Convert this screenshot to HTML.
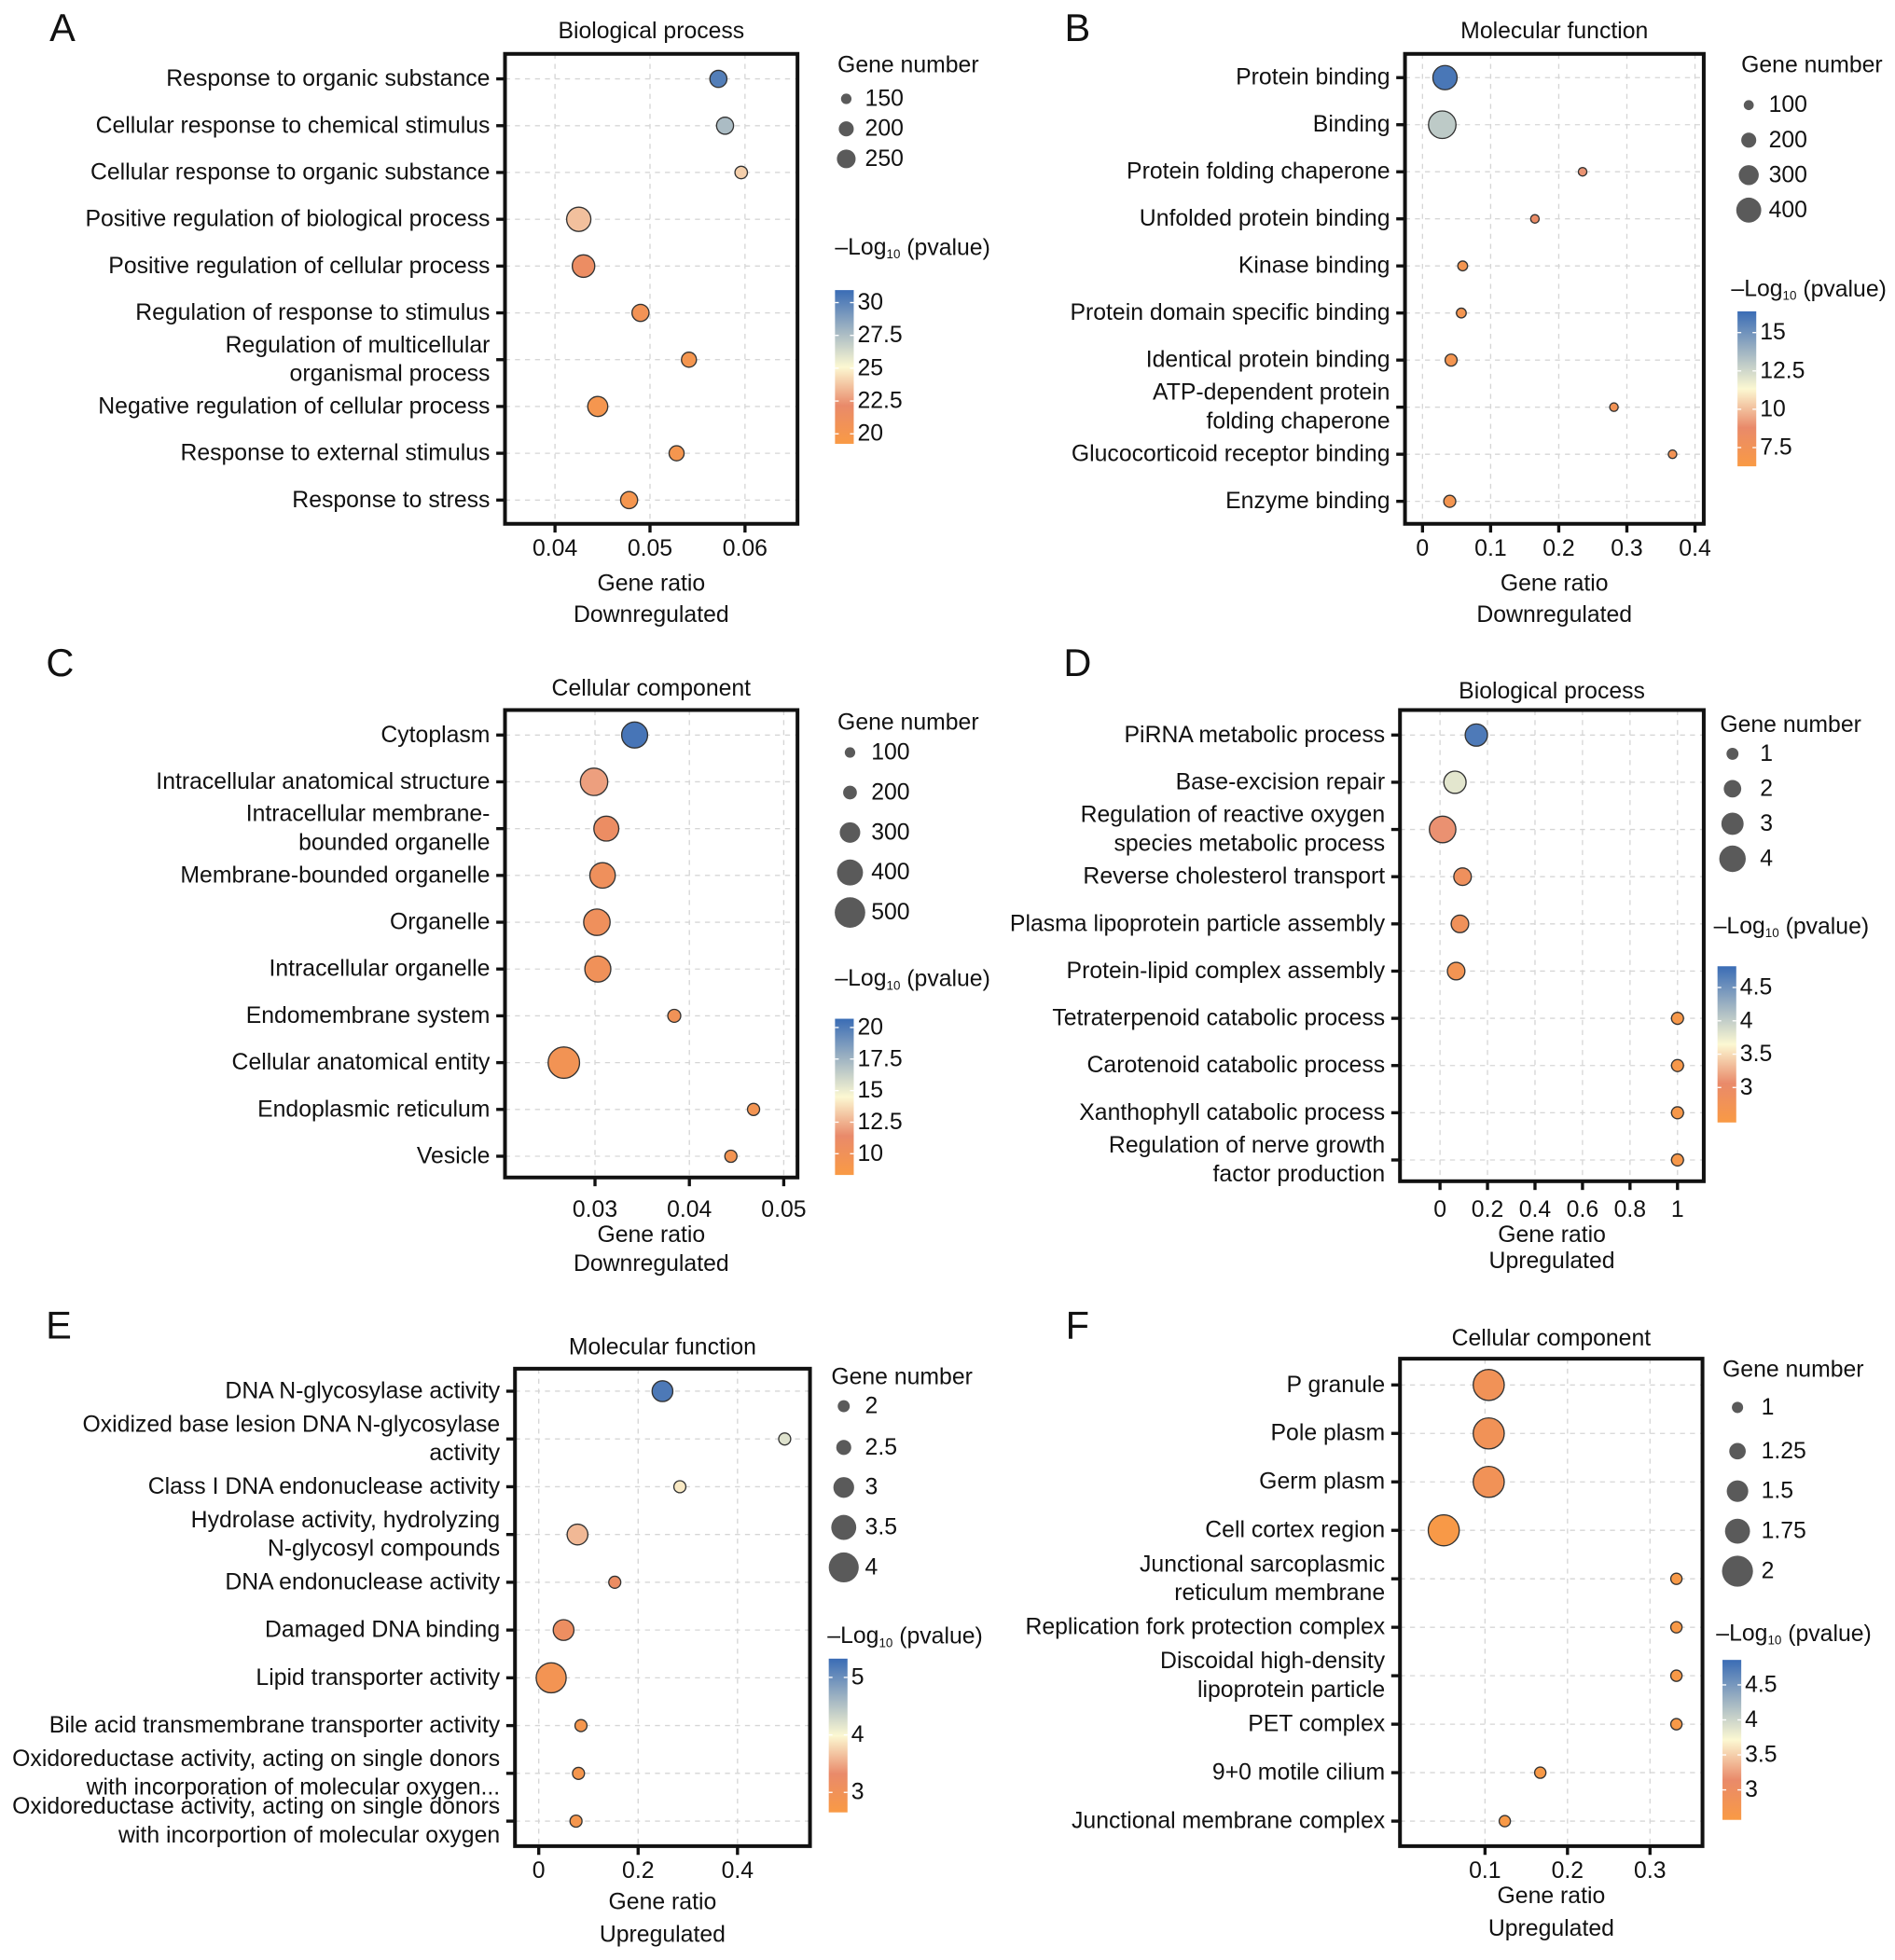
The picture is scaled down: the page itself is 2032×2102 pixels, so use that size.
<!DOCTYPE html>
<html><head><meta charset="utf-8">
<style>
html,body{margin:0;padding:0;background:#fff;}
svg{display:block;}
text{font-family:"Liberation Sans",Arial,sans-serif;fill:#111;}
</style></head>
<body>
<svg id="fig" xmlns="http://www.w3.org/2000/svg" width="2032" height="2102" viewBox="0 0 1516 1568">
<defs>
<linearGradient id="cgrad" x1="0" y1="1" x2="0" y2="0">
<stop offset="0" stop-color="#F99A45"/>
<stop offset="0.25" stop-color="#E98A6A"/>
<stop offset="0.5" stop-color="#FCF8D2"/>
<stop offset="0.75" stop-color="#9DB2C2"/>
<stop offset="1" stop-color="#3A6CB5"/>
</linearGradient>
</defs>
</svg>
<script>
// ---------- Panel A data ----------
const aTerms = ["Response to organic substance","Cellular response to chemical stimulus","Cellular response to organic substance","Positive regulation of biological process","Positive regulation of cellular process","Regulation of response to stimulus","Regulation of multicellular\norganismal process","Negative regulation of cellular process","Response to external stimulus","Response to stress"];
const aRatio = [0.0572,0.0579,0.0596,0.0425,0.0430,0.0490,0.0541,0.0445,0.0528,0.0478];
const aGenes = [227,227,172,323,300,227,200,267,200,227];
const aLogP = [30.2,27.6,24,23.6,21.6,20.6,20,20,20,20];
const aXTicks = [0.04,0.05,0.06];
const aXTickLabels = ["0.04","0.05","0.06"];
const aSizeLegend = [150,200,250];
const aColorTicks = [30,27.5,25,22.5,20];
// ---------- Panel B data ----------
const bTerms = ["Protein binding","Binding","Protein folding chaperone","Unfolded protein binding","Kinase binding","Protein domain specific binding","Identical protein binding","ATP-dependent protein\nfolding chaperone","Glucocorticoid receptor binding","Enzyme binding"];
const bRatio = [0.033,0.029,0.235,0.165,0.059,0.057,0.042,0.281,0.367,0.040];
const bGenes = [385,450,70,70,95,95,140,70,70,140];
const bLogP = [16,13,9,8.5,7,7,7,7.4,7.4,7];
const bXTicks = [0,0.1,0.2,0.3,0.4];
const bXTickLabels = ["0","0.1","0.2","0.3","0.4"];
const bSizeLegend = [100,200,300,400];
const bColorTicks = [15,12.5,10,7.5];
// ---------- Panel C data ----------
const cTerms = ["Cytoplasm","Intracellular anatomical structure","Intracellular membrane-\nbounded organelle","Membrane-bounded organelle","Organelle","Intracellular organelle","Endomembrane system","Cellular anatomical entity","Endoplasmic reticulum","Vesicle"];
const cRatio = [0.0342,0.0299,0.0312,0.0308,0.0302,0.0303,0.0384,0.0267,0.0468,0.0444];
const cGenes = [400,430,380,390,410,400,175,520,150,150];
const cLogP = [20.3,12,10.8,10.2,10.2,10,9.8,9.6,9.4,9.4];
const cXTicks = [0.03,0.04,0.05];
const cXTickLabels = ["0.03","0.04","0.05"];
const cSizeLegend = [100,200,300,400,500];
const cColorTicks = [20,17.5,15,12.5,10];
// ---------- Panel D data ----------
const dTerms = ["PiRNA metabolic process","Base-excision repair","Regulation of reactive oxygen\nspecies metabolic process","Reverse cholesterol transport","Plasma lipoprotein particle assembly","Protein-lipid complex assembly","Tetraterpenoid catabolic process","Carotenoid catabolic process","Xanthophyll catabolic process","Regulation of nerve growth\nfactor production"];
const dRatio = [0.153,0.063,0.011,0.095,0.084,0.068,1,1,1,1];
const dGenes = [3,3,4,2,2,2,1,1,1,1];
const dLogP = [4.7,3.8,3.1,2.85,2.8,2.7,2.55,2.55,2.55,2.55];
const dXTicks = [0,0.2,0.4,0.6,0.8,1];
const dXTickLabels = ["0","0.2","0.4","0.6","0.8","1"];
const dSizeLegend = [1,2,3,4];
const dColorTicks = [4.5,4,3.5,3];
// ---------- Panel E data ----------
const eTerms = ["DNA N-glycosylase activity","Oxidized base lesion DNA N-glycosylase\nactivity","Class I DNA endonuclease activity","Hydrolase activity, hydrolyzing\nN-glycosyl compounds","DNA endonuclease activity","Damaged DNA binding","Lipid transporter activity","Bile acid transmembrane transporter activity","Oxidoreductase activity, acting on single donors\nwith incorporation of molecular oxygen...","Oxidoreductase activity, acting on single donors\nwith incorportion of molecular oxygen"];
const eRatio = [0.249,0.495,0.284,0.078,0.153,0.050,0.025,0.085,0.080,0.075];
const eGenes = [3,2,2,3,2,3,4,2,2,2];
const eLogP = [5.2,4.2,3.9,3.6,3.2,3.15,2.9,2.8,2.8,2.8];
const eXTicks = [0,0.2,0.4];
const eXTickLabels = ["0","0.2","0.4"];
const eSizeLegend = [2,2.5,3,3.5,4];
const eColorTicks = [5,4,3];
// ---------- Panel F data ----------
const fTerms = ["P granule","Pole plasm","Germ plasm","Cell cortex region","Junctional sarcoplasmic\nreticulum membrane","Replication fork protection complex","Discoidal high-density\nlipoprotein particle","PET complex","9+0 motile cilium","Junctional membrane complex"];
const fRatio = [0.1045,0.1045,0.1045,0.050,0.332,0.332,0.332,0.332,0.167,0.124];
const fGenes = [2,2,2,2,1,1,1,1,1,1];
const fLogP = [2.85,2.85,2.85,2.6,2.6,2.6,2.6,2.6,2.6,2.6];
const fXTicks = [0.1,0.2,0.3];
const fXTickLabels = ["0.1","0.2","0.3"];
const fSizeLegend = [1,1.25,1.5,1.75,2];
const fColorTicks = [4.5,4,3.5,3];

// ---------- layouts (pixel geometry, not data) ----------
const panels = [
 {id:"a",letter:"A",lx:50,ly:22,title:"Biological process",sub:"Downregulated",terms:aTerms,ratio:aRatio,genes:aGenes,logp:aLogP,xt:aXTicks,xtl:aXTickLabels,sl:aSizeLegend,slr:[4.2,6,7.5],ct:aColorTicks,
  fx0:404,fx1:638,fy0:43,fy1:419,r0y:63,r1y:400,xa:[0.04,444],xb:[0.06,596],tly:439,gry:467,suby:492,tity:25,
  lgx:670,lgy:52,lcx:677,lcy:[79,103,127],ltx:692,ptx:668,pty:198,cbx:668,cby0:232,cby1:355,cva:[30,242],cvb:[20,347]},
 {id:"b",letter:"B",lx:862,ly:22,title:"Molecular function",sub:"Downregulated",terms:bTerms,ratio:bRatio,genes:bGenes,logp:bLogP,xt:bXTicks,xtl:bXTickLabels,sl:bSizeLegend,slr:[4,6,8,10],ct:bColorTicks,
  fx0:1124,fx1:1363,fy0:43,fy1:419,r0y:62,r1y:401,xa:[0,1138],xb:[0.4,1356],tly:439,gry:467,suby:492,tity:25,
  lgx:1393,lgy:52,lcx:1399,lcy:[84,112,140,168],ltx:1415,ptx:1385,pty:231,cbx:1390,cby0:249,cby1:373,cva:[15,266],cvb:[7.5,358]},
 {id:"c",letter:"C",lx:48,ly:530,title:"Cellular component",sub:"Downregulated",terms:cTerms,ratio:cRatio,genes:cGenes,logp:cLogP,xt:cXTicks,xtl:cXTickLabels,sl:cSizeLegend,slr:[4.2,5.5,8.2,10.4,12.2],ct:cColorTicks,
  fx0:404,fx1:638,fy0:568,fy1:942,r0y:588,r1y:925,xa:[0.03,476],xb:[0.05,627],tly:968,gry:988,suby:1011,tity:551,
  lgx:670,lgy:578,lcx:680,lcy:[602,634,666,698,730],ltx:697,ptx:668,pty:783,cbx:668,cby0:815,cby1:940,cva:[20,822],cvb:[10,923]},
 {id:"d",letter:"D",lx:862,ly:530,title:"Biological process",sub:"Upregulated",terms:dTerms,ratio:dRatio,genes:dGenes,logp:dLogP,xt:dXTicks,xtl:dXTickLabels,sl:dSizeLegend,slr:[4.8,7,8.9,10.6],ct:dColorTicks,
  fx0:1120,fx1:1363,fy0:568,fy1:945,r0y:588,r1y:928,xa:[0,1152],xb:[1,1342],tly:968,gry:988,suby:1009,tity:553,
  lgx:1376,lgy:580,lcx:1386,lcy:[603,631,659,687],ltx:1408,ptx:1371,pty:741,cbx:1374,cby0:773,cby1:898,cva:[4.5,790],cvb:[3,870]},
 {id:"e",letter:"E",lx:47,ly:1060,title:"Molecular function",sub:"Upregulated",terms:eTerms,ratio:eRatio,genes:eGenes,logp:eLogP,xt:eXTicks,xtl:eXTickLabels,sl:eSizeLegend,slr:[4.8,6,8.3,10,12],ct:eColorTicks,
  fx0:412,fx1:648,fy0:1095,fy1:1477,r0y:1113,r1y:1457,xa:[0,431],xb:[0.4,590],tly:1497,gry:1522,suby:1548,tity:1078,
  lgx:665,lgy:1102,lcx:675,lcy:[1125,1158,1190,1222,1254],ltx:692,ptx:662,pty:1309,cbx:663,cby0:1327,cby1:1450,cva:[5,1342],cvb:[3,1434]},
 {id:"f",letter:"F",lx:862,ly:1060,title:"Cellular component",sub:"Upregulated",terms:fTerms,ratio:fRatio,genes:fGenes,logp:fLogP,xt:fXTicks,xtl:fXTickLabels,sl:fSizeLegend,slr:[4.5,6.6,8.6,10,12.4],ct:fColorTicks,
  fx0:1120,fx1:1362,fy0:1087,fy1:1477,r0y:1108,r1y:1457,xa:[0.1,1188],xb:[0.3,1320],tly:1497,gry:1517,suby:1543,tity:1071,
  lgx:1378,lgy:1096,lcx:1390,lcy:[1126,1161,1193,1225,1257],ltx:1409,ptx:1373,pty:1307,cbx:1378,cby0:1328,cby1:1456,cva:[4.5,1348],cvb:[3,1432]}
];

const FS = 18.5;
const NS = "http://www.w3.org/2000/svg";
const svg = document.getElementById("fig");
function mk(tag, attrs, parent){
  const e = document.createElementNS(NS, tag);
  for (const k in attrs) e.setAttribute(k, attrs[k]);
  (parent||svg).appendChild(e);
  return e;
}
const stops = [[0,[249,154,69]],[0.25,[233,138,106]],[0.5,[252,248,210]],[0.75,[157,178,194]],[1,[58,108,181]]];
function colorAt(t){
  t = Math.max(0, Math.min(1, t));
  for (let i=1;i<stops.length;i++){
    if (t <= stops[i][0]){
      const a=stops[i-1], b=stops[i], u=(t-a[0])/(b[0]-a[0]);
      const c=a[1].map((v,j)=>Math.round(v+(b[1][j]-v)*u));
      return "rgb("+c.join(",")+")";
    }
  }
  return "rgb(58,108,181)";
}
function sizeScale(p, n){
  const v=p.sl, r=p.slr;
  let i=1; while (i<v.length-1 && n>v[i]) i++;
  return r[i-1] + (n-v[i-1])*(r[i]-r[i-1])/(v[i]-v[i-1]);
}

panels.forEach(p=>{
  const g = mk("g",{});
  
  
  const xS = v => p.xa[1] + (v-p.xa[0])*(p.xb[1]-p.xa[1])/(p.xb[0]-p.xa[0]);
  const n = p.terms.length;
  const yS = i => p.r0y + i*(p.r1y-p.r0y)/(n-1);
  const cS = v => p.cva[1] + (v-p.cva[0])*(p.cvb[1]-p.cva[1])/(p.cvb[0]-p.cva[0]);
  const cT = v => (p.cby1 - cS(v))/(p.cby1-p.cby0);

  const L = mk("text",{x:p.lx,y:p.ly,"font-size":31,"text-anchor":"middle","dominant-baseline":"central"},g);
  L.textContent = p.letter;
  
  
  const T = mk("text",{x:(p.fx0+p.fx1)/2,y:p.tity,"font-size":FS,"text-anchor":"middle","dominant-baseline":"central"},g);
  T.textContent = p.title;
  
  

  for (let i=0;i<n;i++){
    const gl = mk("line",{x1:p.fx0,x2:p.fx1,y1:yS(i),y2:yS(i),stroke:"#d6d6d6","stroke-width":1,"stroke-dasharray":"4,4"},g);
    
    
  }
  p.xt.forEach((v,i)=>{
    const gl = mk("line",{x1:xS(v),x2:xS(v),y1:p.fy0,y2:p.fy1,stroke:"#d6d6d6","stroke-width":1,"stroke-dasharray":"4,4"},g);
    
    
    const tk = mk("line",{x1:xS(v),x2:xS(v),y1:p.fy1,y2:p.fy1+7,stroke:"#111","stroke-width":2.5},g);
    
    
    const tl = mk("text",{x:xS(v),y:p.tly,"font-size":FS,"text-anchor":"middle","dominant-baseline":"central"},g);
    tl.textContent = p.xtl[i];
    
    
  });
  p.terms.forEach((t,i)=>{
    const y = yS(i);
    const tk = mk("line",{x1:p.fx0-7,x2:p.fx0,y1:y,y2:y,stroke:"#111","stroke-width":2.5},g);
    
    
    const lines = t.split("\n");
    lines.forEach((ln,k)=>{
      const yy = y + (k-(lines.length-1)/2)*23;
      const tx = mk("text",{x:p.fx0-12,y:yy,"font-size":FS,"text-anchor":"end","dominant-baseline":"central"},g);
      tx.textContent = ln;
      
      
    });
  });
  p.ratio.forEach((v,i)=>{
    const c = mk("circle",{cx:xS(v),cy:yS(i),r:sizeScale(p,p.genes[i]),fill:colorAt(cT(p.logp[i])),stroke:"#333","stroke-width":1},g);
    
    
  });
  const fr = mk("rect",{x:p.fx0,y:p.fy0,width:p.fx1-p.fx0,height:p.fy1-p.fy0,fill:"none",stroke:"#111","stroke-width":3},g);
  
  
  const gr = mk("text",{x:(p.fx0+p.fx1)/2,y:p.gry,"font-size":FS,"text-anchor":"middle","dominant-baseline":"central"},g);
  gr.textContent = "Gene ratio";
  
  
  const sb = mk("text",{x:(p.fx0+p.fx1)/2,y:p.suby,"font-size":FS,"text-anchor":"middle","dominant-baseline":"central"},g);
  sb.textContent = p.sub;
  
  
  const lt = mk("text",{x:p.lgx,y:p.lgy,"font-size":FS,"dominant-baseline":"central"},g);
  lt.textContent = "Gene number";
  
  
  p.sl.forEach((v,i)=>{
    const c = mk("circle",{cx:p.lcx,cy:p.lcy[i],r:sizeScale(p,v),fill:"#5a5a5a"},g);
    
    
    const tx = mk("text",{x:p.ltx,y:p.lcy[i],"font-size":FS,"dominant-baseline":"central"},g);
    tx.textContent = String(v);
    
    
  });
  const ct = mk("text",{x:p.ptx,y:p.pty,"font-size":FS,"dominant-baseline":"central"},g);
  ct.innerHTML = '\u2013Log<tspan font-size="10" dy="5">10</tspan><tspan dy="-5"> (pvalue)</tspan>';
  
  
  const cb = mk("rect",{x:p.cbx,y:p.cby0,width:15,height:p.cby1-p.cby0,fill:"url(#cgrad)"},g);
  
  
  p.ct.forEach(v=>{
    const y = cS(v);
    const w1 = mk("line",{x1:p.cbx,x2:p.cbx+3,y1:y,y2:y,stroke:"#fff","stroke-width":1},g);
    
    
    const w2 = mk("line",{x1:p.cbx+12,x2:p.cbx+15,y1:y,y2:y,stroke:"#fff","stroke-width":1},g);
    
    
    const tx = mk("text",{x:p.cbx+18,y:y,"font-size":FS,"dominant-baseline":"central"},g);
    tx.textContent = String(v);
    
    
  });
});
</script>
</body></html>
